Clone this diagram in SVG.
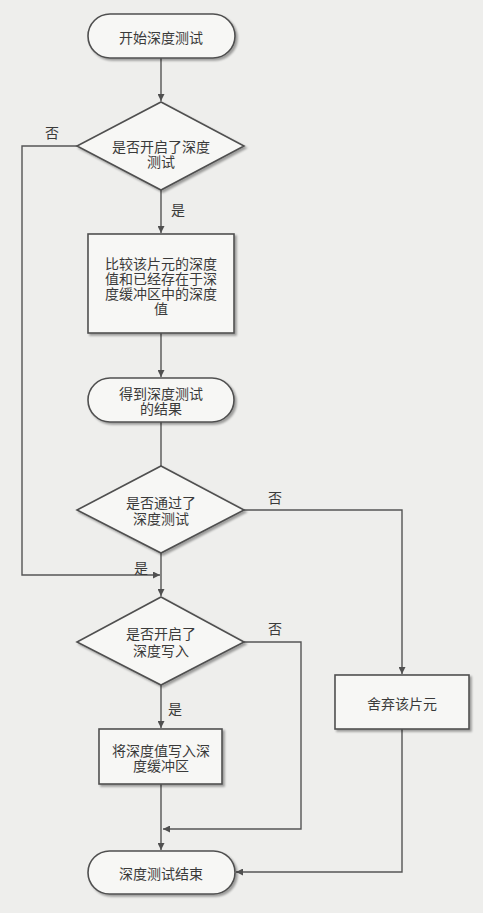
<svg xmlns="http://www.w3.org/2000/svg" width="483" height="913" viewBox="0 0 483 913">
<defs>
<marker id="ah" viewBox="0 0 10 10" refX="10" refY="5" markerWidth="7" markerHeight="7" markerUnits="userSpaceOnUse" orient="auto"><path d="M0,0 L10,5 L0,10 z" fill="#505050"/></marker>
<filter id="sh" x="-10%" y="-10%" width="130%" height="130%"><feGaussianBlur in="SourceAlpha" stdDeviation="1.2"/><feOffset dx="1.5" dy="1.5"/><feComponentTransfer><feFuncA type="linear" slope="0.35"/></feComponentTransfer><feMerge><feMergeNode/><feMergeNode in="SourceGraphic"/></feMerge></filter>
<style>
.s{fill:#f7f7f5;stroke:#505050;stroke-width:1.6;filter:url(#sh)}
.c{fill:none;stroke:#555;stroke-width:1.4}
text{font-family:"Noto Sans CJK SC","Noto Sans CJK TC",sans-serif;font-size:14px;fill:#3a3a3a;text-anchor:middle;dominant-baseline:central}
</style>
</defs>
<rect width="483" height="913" fill="#eeeeec"/>
<g id="connectors">
<path class="c" d="M161,58 V101" marker-end="url(#ah)"/>
<path class="c" d="M161,190 V233" marker-end="url(#ah)"/>
<path class="c" d="M161,333 V377" marker-end="url(#ah)"/>
<path class="c" d="M161,422 V466"/>
<path class="c" d="M77,146 H22 V575 H160" marker-end="url(#ah)"/>
<path class="c" d="M161,553 V596" marker-end="url(#ah)"/>
<path class="c" d="M244,510 H402 V674" marker-end="url(#ah)"/>
<path class="c" d="M161,685 V728" marker-end="url(#ah)"/>
<path class="c" d="M244,642 H301 V829 H163" marker-end="url(#ah)"/>
<path class="c" d="M161,784 V850" marker-end="url(#ah)"/>
<path class="c" d="M402,729 V872 H236" marker-end="url(#ah)"/>
<text x="52" y="132">否</text>
<text x="178" y="209">是</text>
<text x="275" y="497">否</text>
<text x="141" y="567">是</text>
<text x="275" y="628">否</text>
<text x="175" y="708">是</text>
</g>
<g id="start"><rect class="s" x="88" y="14" width="147" height="44" rx="22"/><text x="161" y="37">开始深度测试</text></g>
<g id="d1"><path class="s" d="M161,102 L244,146 L161,190 L77,146 z"/><text x="161" y="146">是否开启了深度</text><text x="161" y="161">测试</text></g>
<g id="compare"><rect class="s" x="88" y="234" width="146" height="99"/><text x="161" y="263">比较该片元的深度</text><text x="161" y="278">值和已经存在于深</text><text x="161" y="293">度缓冲区中的深度</text><text x="161" y="308">值</text></g>
<g id="result"><rect class="s" x="88" y="378" width="146" height="44" rx="22"/><text x="161" y="393">得到深度测试</text><text x="161" y="408">的结果</text></g>
<g id="d2"><path class="s" d="M161,466 L244,510 L161,553 L77,510 z"/><text x="161" y="502">是否通过了</text><text x="161" y="518">深度测试</text></g>
<g id="d3"><path class="s" d="M161,597 L244,642 L161,685 L77,642 z"/><text x="161" y="633">是否开启了</text><text x="161" y="650">深度写入</text></g>
<g id="write"><rect class="s" x="99" y="729" width="123" height="55"/><text x="161" y="750">将深度值写入深</text><text x="161" y="765">度缓冲区</text></g>
<g id="discard"><rect class="s" x="335" y="675" width="134" height="54"/><text x="402" y="703">舍弃该片元</text></g>
<g id="end"><rect class="s" x="88" y="851" width="147" height="43" rx="21.5"/><text x="161" y="873">深度测试结束</text></g>
</svg>
